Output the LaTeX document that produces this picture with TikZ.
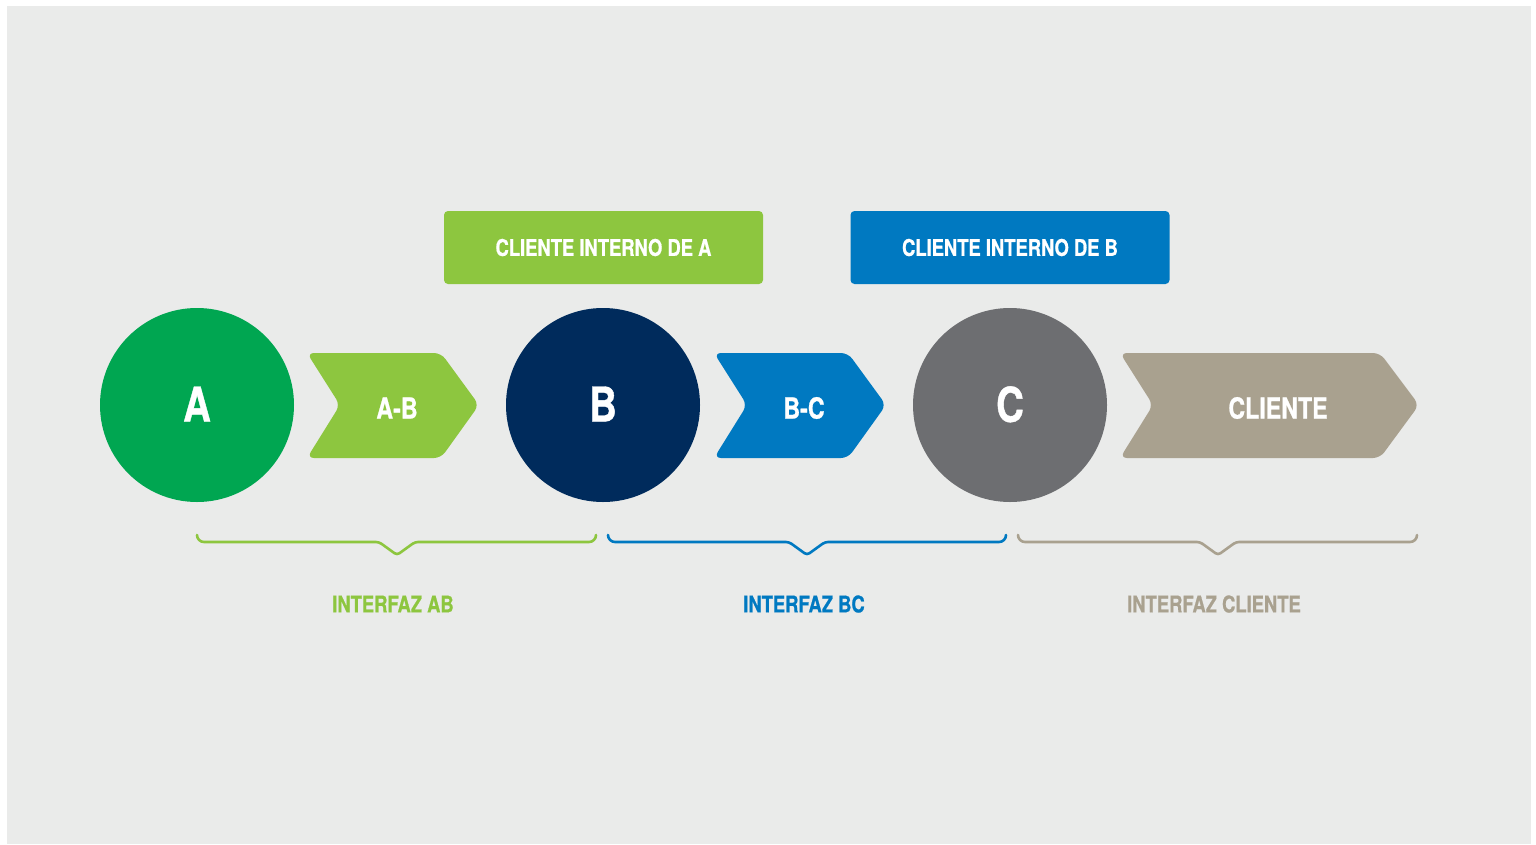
\documentclass[tikz,border=0pt]{standalone}
\usepackage{fontspec}
\newfontfamily\condfont[FakeStretch=0.8,FakeBold=0.8]{TeX Gyre Heros}
\definecolor{bgc}{HTML}{EAEBEA}
\definecolor{cgreen}{HTML}{00A651}
\definecolor{lgreen}{HTML}{8DC63F}
\definecolor{navy}{HTML}{002B5C}
\definecolor{cblue}{HTML}{0079C1}
\definecolor{cgray}{HTML}{6D6E71}
\definecolor{ctan}{HTML}{A9A18F}
\tikzset{
  bigcircle/.style={circle, minimum size=194pt, inner sep=0pt, text=white, font=\condfont\bfseries\fontsize{48}{50}\selectfont},
  chevtext/.style={text=white, font=\condfont\bfseries\fontsize{29}{31}\selectfont, inner sep=0pt},
  topbox/.style={rounded corners=4pt, minimum width=319pt, minimum height=73pt, inner sep=0pt, text=white, font=\condfont\bfseries\fontsize{23}{25}\selectfont},
  bracepath/.style={line width=2.6pt, line cap=round},
  iflabel/.style={font=\condfont\bfseries\fontsize{23}{25}\selectfont, inner sep=0pt},
}
\begin{document}
\begin{tikzpicture}[x=1pt,y=-1pt]
\useasboundingbox (0,0) rectangle (1536,844);
\fill[white] (0,0) rectangle (1536,844);
\fill[bgc] (7,6) rectangle (1531,844);
% circles
\node[bigcircle, fill=cgreen] (A) at (197,405) {\raisebox{2pt}{A}};
\node[bigcircle, fill=navy] (B) at (603,405) {\raisebox{2pt}{B}};
\node[bigcircle, fill=cgray] (C) at (1010,405) {\raisebox{2pt}{C}};
% chevrons
\fill[lgreen, rounded corners=7pt] (307,353) -- (441,353) -- (479,405) -- (441,458) -- (307,458) -- (340,405) -- cycle;
\node[chevtext] (ab) at (397,408) {A-B};
\fill[cblue, rounded corners=7pt] (714,353) -- (848,353) -- (886,405) -- (848,458) -- (714,458) -- (747,405) -- cycle;
\node[chevtext] (bc) at (804,408) {B-C};
\fill[ctan, rounded corners=7pt] (1120,353) -- (1380,353) -- (1419,405) -- (1380,458) -- (1120,458) -- (1153,405) -- cycle;
\node[chevtext] (cl) at (1278,408) {CLIENTE};
% top boxes
\node[topbox, fill=lgreen] (ia) at (603.5,247.5) {\raisebox{-1pt}{CLIENTE INTERNO DE A}};
\node[topbox, fill=cblue] (ib) at (1010,247.5) {\raisebox{-1pt}{CLIENTE INTERNO DE B}};
% braces
\draw[bracepath, lgreen] (197,535) [rounded corners=7pt] -- (197,542) [rounded corners=3pt] -- (379,542) -- (397,555) -- (415,542) [rounded corners=7pt] -- (596,542) -- (596,535);
\draw[bracepath, cblue] (608,535) [rounded corners=7pt] -- (608,542) [rounded corners=3pt] -- (789,542) -- (807,555) -- (825,542) [rounded corners=7pt] -- (1006,542) -- (1006,535);
\draw[bracepath, ctan] (1018,535) [rounded corners=7pt] -- (1018,542) [rounded corners=3pt] -- (1200,542) -- (1218,555) -- (1236,542) [rounded corners=7pt] -- (1417,542) -- (1417,535);
% labels
\node[iflabel, text=lgreen] (lab) at (393,604) {INTERFAZ AB};
\node[iflabel, text=cblue] (lbc) at (804,604) {INTERFAZ BC};
\node[iflabel, text=ctan] (lcl) at (1214,604) {INTERFAZ CLIENTE};
\end{tikzpicture}
\end{document}
